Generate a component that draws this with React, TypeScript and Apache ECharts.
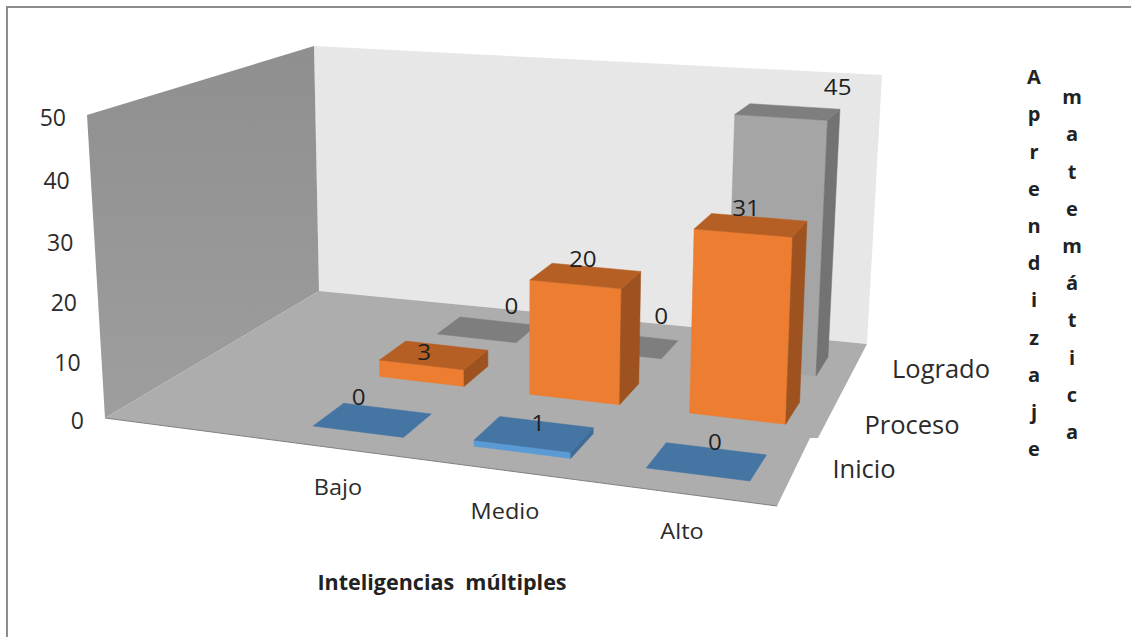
import React, { useEffect, useRef } from "react";
import * as echarts from "echarts";

// Chart values
const categories = ["Bajo", "Medio", "Alto"];
const depthNames = ["Inicio", "Proceso", "Logrado"];
const inicio = [0, 1, 0];
const proceso = [3, 20, 31];
const logrado = [0, 0, 45];
const valueTicks = [0, 10, 20, 30, 40, 50];
const xAxisName = "Inteligencias  múltiples";
const depthAxisNameA = "Aprendizaje";
const depthAxisNameB = "matemática";

// Scene geometry of the 3D box (screen pixels)
const VALUE_MAX = 50;
const PERSPECTIVE = 1.05;
const GAP_X = 0.215;
const GAP_Y = 0.28;
const X_FORESHORTEN = 0.03;
const HEIGHT_BASE = 112.5;
const HEIGHT_PER_Y = 0.46;
const LEAN_PER_X = 0.0433;
const LEAN_ZERO_X = 520;
const baseQuad = [[313, 426], [750, 481], [828, 357], [460, 317]];
const wallEdgeBottom = [105, 418];
const wallEdgeTop = [87, 115];
const leftWall = [[105, 418], [319, 291], [314, 46], [87, 115]];
const backWall = [[319, 291], [867, 344], [882, 75], [314, 46]];
const floor = [[105, 418], [777, 506], [810, 438], [818, 438], [867, 344], [319, 291]];

// Screen offsets of value labels from the centre of the bar top: [series][category]
const valueLabelOffsets = [
  [[-14, -23], [4, -11], [8, -20]],
  [[-10, -4], [-3, -17], [-5, -17.5]],
  [[24, -24], [33, -30], [50, -25]],
];
const categoryLabelAnchors = [[338, 487], [505, 511], [682, 531]];
const depthLabelAnchors = [[864, 468], [912, 424], [941, 368]];

const seriesColours = [
  { front: "#5B9BD5", top: "#4575A3", side: "#3F6C96" },
  { front: "#ED7D31", top: "#B65F25", side: "#9E521F" },
  { front: "#A5A5A5", top: "#7E7E7E", side: "#737373" },
];

const FONT = '"Open Sans", sans-serif';
const TEXT = "#2b2b2b";

function quadMap(q: number[][]) {
  const [[x0, y0], [x1, y1], [x2, y2], [x3, y3]] = q;
  const dx1 = x1 - x2, dx2 = x3 - x2, sx = x0 - x1 + x2 - x3;
  const dy1 = y1 - y2, dy2 = y3 - y2, sy = y0 - y1 + y2 - y3;
  const den = dx1 * dy2 - dx2 * dy1;
  const g = (sx * dy2 - dx2 * sy) / den;
  const h = (dx1 * sy - sx * dy1) / den;
  const a = x1 - x0 + g * x1, b = x3 - x0 + h * x3;
  const d = y1 - y0 + g * y1, e = y3 - y0 + h * y3;
  return (u: number, v: number) => {
    const w = g * u + h * v + 1;
    return [(a * u + b * v + x0) / w, (d * u + e * v + y0) / w];
  };
}

const mapBase = quadMap(baseQuad);

// Fraction of the wall height reached by a value, with vertical foreshortening
function heightFraction(value: number) {
  const s = value / VALUE_MAX;
  return s / (s + PERSPECTIVE * (1 - s));
}

// Category position, depth position and value to screen pixels.
// The full-scale height grows towards the viewer and verticals fan out from the centre.
function project(cat: number, depth: number, value: number) {
  const rawU = (cat - GAP_X) / (3 - 2 * GAP_X);
  const u = rawU - X_FORESHORTEN * rawU * (1 - rawU);
  const v = (depth - GAP_Y) / (3 - 2 * GAP_Y);
  const b = mapBase(u, v);
  const f = heightFraction(value);
  const fullHeight = HEIGHT_BASE + HEIGHT_PER_Y * b[1];
  const lean = (b[0] - LEAN_ZERO_X) * LEAN_PER_X;
  return [b[0] + lean * f, b[1] - fullHeight * f];
}

function barItem(seriesIndex: number) {
  return (_p: any, api: any) => {
    const c = api.value(0), d = api.value(1), val = api.value(2);
    const x0 = c + GAP_X, x1 = c + 1 - GAP_X, y0 = d + GAP_Y, y1 = d + 1 - GAP_Y;
    const col = seriesColours[seriesIndex];
    const poly = (points: number[][], fill: string) => ({
      type: "polygon",
      shape: { points },
      style: { fill, stroke: fill, lineWidth: 0.5 },
    });
    const children: any[] = [];
    if (val > 0) {
      children.push(poly([project(x0, y0, 0), project(x1, y0, 0), project(x1, y0, val), project(x0, y0, val)], col.front));
      children.push(poly([project(x1, y0, 0), project(x1, y1, 0), project(x1, y1, val), project(x1, y0, val)], col.side));
    }
    children.push(poly([project(x0, y0, val), project(x1, y0, val), project(x1, y1, val), project(x0, y1, val)], col.top));
    return { type: "group", children };
  };
}

function valueLabelItem(_p: any, api: any) {
  const c = api.value(0), d = api.value(1), val = api.value(2);
  const centre = project(c + 0.5, d + 0.5, val);
  const off = valueLabelOffsets[d][c];
  return {
    type: "text",
    x: centre[0] + off[0],
    y: centre[1] + off[1],
    scaleX: 1.1,
    style: { text: String(val), fill: "#1f1f1f", fontSize: 22, fontFamily: FONT, align: "center", verticalAlign: "middle" },
  };
}

function tickItem(_p: any, api: any) {
  const val = api.value(0);
  const f = heightFraction(val);
  return {
    type: "text",
    x: wallEdgeBottom[0] + (wallEdgeTop[0] - wallEdgeBottom[0]) * f - 21,
    y: wallEdgeBottom[1] + (wallEdgeTop[1] - wallEdgeBottom[1]) * f + 2,
    style: { text: String(val), fill: TEXT, fontSize: 23, fontFamily: FONT, align: "right", verticalAlign: "middle" },
  };
}

const rows = [inicio, proceso, logrado];
const cells = (row: number[], d: number) => row.map((v, c) => [c, d, v]);
const labelText = (text: string, at: number[], fontSize: number, scaleX: number) => ({
  type: "text",
  x: at[0],
  y: at[1],
  scaleX,
  silent: true,
  style: { text, fill: TEXT, fontSize, fontFamily: FONT, align: "center", verticalAlign: "middle" },
});
const stacked = (word: string, x: number, y: number) => ({
  type: "text",
  x,
  y,
  silent: true,
  style: {
    text: word.split("").join("\n"),
    fill: "#222222",
    fontSize: 20,
    fontWeight: "bold",
    fontFamily: FONT,
    lineHeight: 37.2,
    align: "center",
    verticalAlign: "top",
  },
});

function buildOption() {
  return {
    animation: false,
    backgroundColor: "#ffffff",
    graphic: [
      { type: "polygon", z: 0, silent: true, shape: { points: backWall }, style: { fill: "#E7E7E7" } },
      {
        type: "polygon",
        z: 0,
        silent: true,
        shape: { points: leftWall },
        style: {
          fill: {
            type: "linear", x: 0, y: 0, x2: 0, y2: 1,
            colorStops: [{ offset: 0, color: "#8F8F8F" }, { offset: 1, color: "#9E9E9E" }],
          },
        },
      },
      { type: "polygon", z: 0, silent: true, shape: { points: floor }, style: { fill: "#ADADAD" } },
      { type: "line", z: 0, silent: true, shape: { x1: 105, y1: 418, x2: 777, y2: 506 }, style: { stroke: "#808080", lineWidth: 1 } },
      { type: "polyline", z: 0, silent: true, shape: { points: [[7, 637], [7, 7], [1131, 7]] }, style: { stroke: "#8C8C8C", lineWidth: 2, fill: "none" } },
      ...categories.map((c, i) => labelText(c, categoryLabelAnchors[i], 21, 1.12)),
      ...depthNames.map((c, i) => labelText(c, depthLabelAnchors[i], 25.5, 1)),
      {
        type: "text",
        x: 442,
        y: 581.5,
        silent: true,
        style: { text: xAxisName, fill: "#222222", fontSize: 21.5, fontWeight: "bold", fontFamily: FONT, align: "center", verticalAlign: "middle" },
      },
      stacked(depthAxisNameA, 1034, 58),
      stacked(depthAxisNameB, 1072, 78),
    ],
    series: [
      ...[2, 1, 0].map((d) => ({
        type: "custom",
        name: depthNames[d],
        coordinateSystem: "none",
        silent: true,
        z: 2,
        data: cells(rows[d], d),
        renderItem: barItem(d),
      })),
      {
        type: "custom",
        name: "values",
        coordinateSystem: "none",
        silent: true,
        z: 3,
        data: rows.flatMap((r, d) => cells(r, d)),
        renderItem: valueLabelItem,
      },
      {
        type: "custom",
        name: "ticks",
        coordinateSystem: "none",
        silent: true,
        z: 3,
        data: valueTicks.map((v) => [v]),
        renderItem: tickItem,
      },
    ],
  };
}

export default function App() {
  const ref = useRef<HTMLDivElement>(null);
  useEffect(() => {
    document.body.style.margin = "0";
    const chart = echarts.init(ref.current as HTMLDivElement, undefined, { renderer: "svg" });
    chart.setOption(buildOption() as any);
    return () => chart.dispose();
  }, []);
  return <div ref={ref} style={{ width: 1131, height: 637 }} />;
}
